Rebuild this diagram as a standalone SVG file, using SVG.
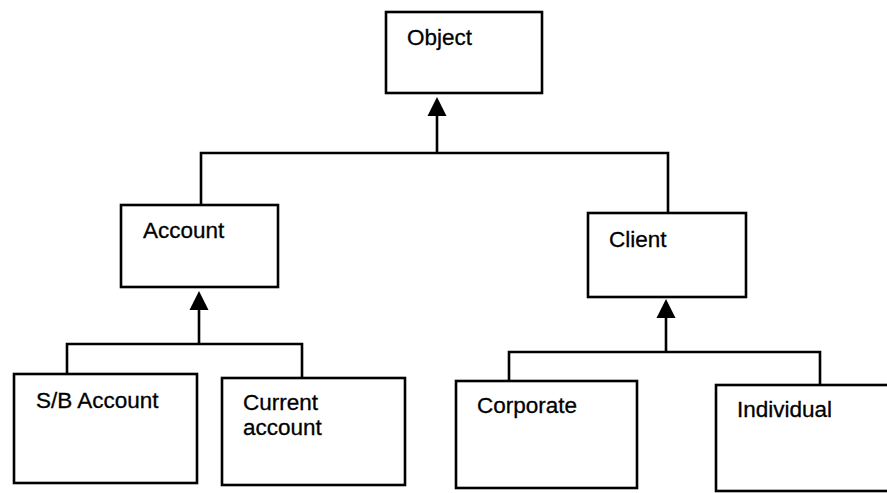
<svg xmlns="http://www.w3.org/2000/svg" width="887" height="493" viewBox="0 0 887 493">
<style>
.box{fill:#fff;stroke:#000;stroke-width:2.6}
.lbl{font-family:"Liberation Sans",Arial,sans-serif;font-size:22.5px;fill:#000;stroke:#000;stroke-width:0.3}
.con{fill:none;stroke:#000;stroke-width:2.6}
.head{fill:#000}
</style>
<rect width="887" height="493" fill="#fff"/>
<g id="connectors">
<path class="con" d="M201,205 V153 H668 V213"/>
<path class="con" d="M437,153 V114"/>
<polygon class="head" points="437,97 427.5,116 446.5,116"/>
<path class="con" d="M67,374 V344 H302 V378"/>
<path class="con" d="M199,344 V308"/>
<polygon class="head" points="199,291 189.5,310 208.5,310"/>
<path class="con" d="M509,381 V352 H820 V385"/>
<path class="con" d="M666,352 V316"/>
<polygon class="head" points="666,299 656.5,318 675.5,318"/>
</g>
<g id="object"><rect class="box" x="386" y="12" width="156" height="81"/><text class="lbl" x="407" y="45">Object</text></g>
<g id="account"><rect class="box" x="121" y="205" width="157" height="82"/><text class="lbl" x="143" y="238">Account</text></g>
<g id="client"><rect class="box" x="588" y="213" width="158" height="84"/><text class="lbl" x="609" y="247">Client</text></g>
<g id="sb-account"><rect class="box" x="14" y="374" width="183" height="109"/><text class="lbl" x="36" y="408">S/B Account</text></g>
<g id="current-account"><rect class="box" x="222" y="378" width="183" height="107"/><text class="lbl" x="243" y="410">Current</text><text class="lbl" x="243" y="435">account</text></g>
<g id="corporate"><rect class="box" x="456" y="381" width="181" height="107"/><text class="lbl" x="477" y="413">Corporate</text></g>
<g id="individual"><rect class="box" x="716" y="385" width="190" height="106"/><text class="lbl" x="737" y="417">Individual</text></g>
</svg>
